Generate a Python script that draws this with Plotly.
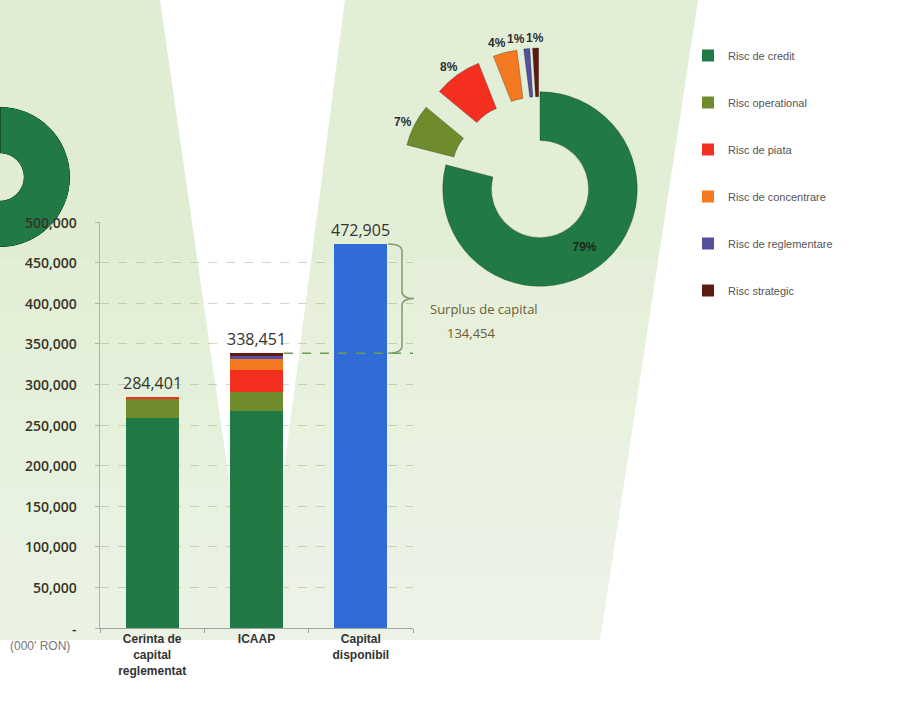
import math
import plotly.graph_objects as go

# ---------------- data ----------------
categories = ["Cerinta de capital reglementat", "ICAAP", "Capital disponibil"]
tick_labels = ["Cerinta de<br>capital<br>reglementat", "ICAAP", "Capital<br>disponibil"]
risk_names = ["Risc de credit", "Risc operational", "Risc de piata",
              "Risc de concentrare", "Risc de reglementare", "Risc strategic"]
req_capital = [258700, 23400, 2301, 0, 0, 0]               # Cerinta de capital reglementat
icaap_capital = [267376, 23692, 27076, 13538, 3385, 3384]  # ICAAP
available_capital = 472905                                  # Capital disponibil
y_tick_values = [0, 50000, 100000, 150000, 200000, 250000, 300000, 350000, 400000, 450000, 500000]
y_tick_labels = ["-", "50,000", "100,000", "150,000", "200,000", "250,000",
                 "300,000", "350,000", "400,000", "450,000", "500,000"]

# ---------------- styles ----------------
risk_colors = ["#217A46", "#6E8C2C", "#F3301F", "#F47A22", "#54509F", "#5E1B12"]
capital_color = "#2F6CD6"
W, H = 905, 708


def PX(x):
    return x / W


def PY(y):
    return 1 - y / H


fig = go.Figure()

# stacked bars
for name, color, a, b in zip(risk_names, risk_colors, req_capital, icaap_capital):
    fig.add_trace(go.Bar(
        x=categories, y=[a, b, 0], name=name, legendgroup=name,
        marker=dict(color=color, line=dict(width=0)),
        hoverinfo="name+y", xaxis="x", yaxis="y"))
fig.add_trace(go.Bar(
    x=categories, y=[0, 0, available_capital], name="Capital disponibil",
    marker=dict(color=capital_color, line=dict(width=0)), showlegend=False,
    xaxis="x", yaxis="y"))

totals = [sum(req_capital), sum(icaap_capital), available_capital]
surplus = available_capital - sum(icaap_capital)

# ICAAP donut (exploded small slices)
PIE_X = (399, 681)
PIE_Y = (48, 330)
PULL = 0.45
pulls = [0] + [PULL] * (len(risk_names) - 1)
fig.add_trace(go.Pie(
    labels=risk_names, values=icaap_capital, hole=0.5, sort=False,
    direction="clockwise", rotation=0, pull=pulls,
    marker=dict(colors=risk_colors, line=dict(color="rgba(0,0,0,0.25)", width=1)),
    texttemplate="%{percent:.0%}",
    textposition=["inside"] + ["none"] * (len(risk_names) - 1),
    insidetextorientation="horizontal",
    textfont=dict(family="Liberation Sans", size=12, color="#1E2A20", weight="bold"),
    domain=dict(x=[PX(PIE_X[0]), PX(PIE_X[1])], y=[PY(PIE_Y[1]), PY(PIE_Y[0])]),
    showlegend=False))

# outside percentage labels of the pulled slices, placed along their mid-angles
cx = (PIE_X[0] + PIE_X[1]) / 2
cy = (PIE_Y[0] + PIE_Y[1]) / 2
R = (PIE_X[1] - PIE_X[0]) / 2 / (1 + PULL)
total_icaap = sum(icaap_capital)
labels_pos = []
cum = 0
for i, v in enumerate(icaap_capital):
    mid = (cum + v / 2) / total_icaap * 2 * math.pi
    cum += v
    if i == 0:
        continue
    rl = R * (1 + PULL) + 13
    labels_pos.append([cx + rl * math.sin(mid), cy - rl * math.cos(mid) + 3,
                       f"{round(v / total_icaap * 100)}%"])
for j in range(len(labels_pos) - 2, -1, -1):
    if labels_pos[j + 1][1] < 60 and labels_pos[j][1] < 60:
        labels_pos[j][0] = min(labels_pos[j][0], labels_pos[j + 1][0] - 19)

# partial donut of regulatory requirement (cropped at left edge)
req_total = sum(req_capital)
thetas, widths, cols = [], [], []
start = 0.0
for v, c in zip(req_capital, risk_colors):
    if v <= 0:
        continue
    w = v / req_total * 360
    thetas.append(start + w / 2)
    widths.append(w)
    cols.append(c)
    start += w
fig.add_trace(go.Barpolar(
    r=[1] * len(thetas), theta=thetas, width=widths,
    marker=dict(color=cols, line=dict(color="#14532C", width=1)),
    showlegend=False, subplot="polar", hoverinfo="skip"))


# ---------------- background decoration ----------------
def poly(pts):
    return "M " + " L ".join(f"{PX(x):.4f},{PY(y):.4f}" for x, y in pts) + " Z"


shapes = [
    dict(type="path", xref="paper", yref="paper", layer="below",
         path=poly([(0, 0), (160, 0), (252, 640), (0, 640)]),
         fillcolor="#E0EDD3", line=dict(width=0)),
    dict(type="path", xref="paper", yref="paper", layer="below",
         path=poly([(345, 0), (698, 0), (600, 640), (262, 640)]),
         fillcolor="#E3EED7", line=dict(width=0)),
]
# soft fade towards the bottom
for k in range(8):
    ytop = 260 + k * 45
    shapes.append(dict(type="path", xref="paper", yref="paper", layer="below",
                       path=poly([(0, ytop), (905, ytop), (905, 640), (0, 640)]),
                       fillcolor="rgba(255,255,255,0.07)", line=dict(width=0)))
# dashed ICAAP level line
shapes.append(dict(type="line", xref="paper", yref="y", x0=PX(284), x1=PX(413),
                   y0=totals[1], y1=totals[1],
                   line=dict(color="#6A9E55", width=1.5, dash="dash")))

# curly brace for surplus
yt, yb = totals[2], totals[1]
ym = (yt + yb) / 2
d = 9000
x0, x1, x2 = PX(388), PX(402), PX(414)
brace = (f"M {x0},{yt} Q {x1},{yt} {x1},{yt - d} L {x1},{ym + d} "
         f"Q {x1},{ym} {x2},{ym} Q {x1},{ym} {x1},{ym - d} "
         f"L {x1},{yb + d} Q {x1},{yb} {x0},{yb}")
shapes.append(dict(type="path", xref="paper", yref="y", path=brace,
                   line=dict(color="#7E9C6E", width=1.5)))

annotations = []
# y tick labels (drawn on top so they stay readable over the cropped donut)
for val, txt in zip(y_tick_values, y_tick_labels):
    annotations.append(dict(x=PX(79), y=val, xref="paper", yref="y", text=txt,
                            showarrow=False, xanchor="right", yanchor="middle",
                            font=dict(family="Open Sans", size=14, color="#34342A",
                                      weight=600)))
for cat, tot in zip(categories, totals):
    annotations.append(dict(x=cat, y=tot, xref="x", yref="y", text=f"{tot:,}",
                            showarrow=False, yanchor="bottom", yshift=1,
                            font=dict(family="Open Sans", size=16, color="#333333")))
for lx, ly, txt in labels_pos:
    annotations.append(dict(x=PX(lx), y=PY(ly), xref="paper", yref="paper", text=txt,
                            showarrow=False, xanchor="center", yanchor="middle",
                            font=dict(family="Liberation Sans", size=12,
                                      color="#2E2E2E", weight="bold")))
annotations += [
    dict(x=PX(428), y=PY(309), xref="paper", yref="paper", text="Surplus de capital",
         showarrow=False, xanchor="left", yanchor="middle",
         font=dict(family="Open Sans", size=13, color="#6B5E36")),
    dict(x=PX(445), y=PY(333), xref="paper", yref="paper", text=f"{surplus:,}",
         showarrow=False, xanchor="left", yanchor="middle",
         font=dict(family="Open Sans", size=13, color="#6B5E36")),
    dict(x=PX(40), y=PY(646), xref="paper", yref="paper", text="(000' RON)",
         showarrow=False, xanchor="center", yanchor="middle",
         font=dict(family="Liberation Sans", size=12, color="#777777")),
]

fig.update_layout(
    width=W, height=H, autosize=False,
    margin=dict(l=0, r=0, t=0, b=0, autoexpand=False),
    paper_bgcolor="#FFFFFF", plot_bgcolor="rgba(0,0,0,0)",
    barmode="stack", bargap=0.49,
    showlegend=True,
    legend=dict(x=PX(688), y=PY(41), xanchor="left", yanchor="top",
                tracegroupgap=28, bgcolor="rgba(0,0,0,0)",
                font=dict(family="Liberation Sans", size=11, color="#555555")),
    xaxis=dict(domain=[PX(100), PX(413)], tickmode="array", tickvals=categories,
               ticktext=tick_labels, showline=True, linecolor="#A0A0A0", linewidth=1,
               ticks="outside", tickson="boundaries", ticklen=4, tickcolor="#A0A0A0",
               tickfont=dict(family="Liberation Sans", size=12, color="#333333", weight="bold"),
               showgrid=False, fixedrange=True, automargin=False),
    yaxis=dict(domain=[PY(628), PY(222)], range=[0, 500000], tickmode="array",
               tickvals=y_tick_values, showticklabels=False,
               showline=True, linecolor="#B0B0B0", linewidth=1,
               ticks="outside", ticklen=4, tickcolor="#B0B0B0",
               showgrid=True, gridcolor="rgba(150,170,120,0.45)", griddash="dash",
               zeroline=False, fixedrange=True, automargin=False),
    polar=dict(domain=dict(x=[0, PX(70)], y=[PY(247), PY(107)]),
               sector=[-90, 90], hole=0.34, bgcolor="rgba(0,0,0,0)",
               angularaxis=dict(visible=False, rotation=90, direction="clockwise"),
               radialaxis=dict(visible=False, range=[0, 1])),
    shapes=shapes, annotations=annotations,
)

fig.write_html("out.html")
